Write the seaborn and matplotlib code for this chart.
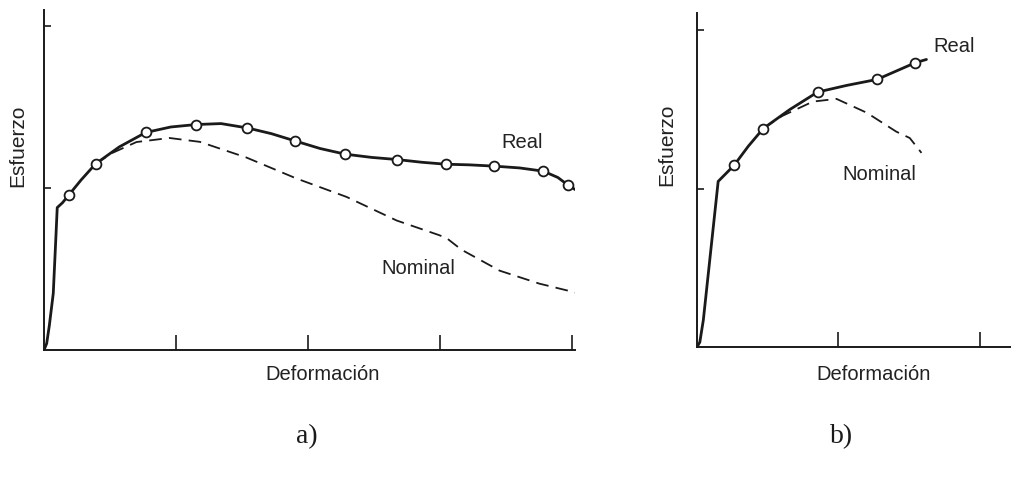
import numpy as np
import pandas as pd
import seaborn as sns
import matplotlib
matplotlib.use("Agg")
import matplotlib.pyplot as plt

# panel a) - curve (ticks = 1 unit)
a_real_x = [0, 0.02, 0.04, 0.07, 0.09, 0.10, 0.14, 0.19, 0.28, 0.39, 0.57, 0.77, 0.96, 1.15,
            1.34, 1.54, 1.72, 1.90, 2.09, 2.28, 2.48, 2.67, 2.86, 3.04, 3.22, 3.41, 3.60,
            3.78, 3.89, 3.97, 4.05]
a_real_y = [0, 0.04, 0.15, 0.35, 0.70, 0.88, 0.91, 0.96, 1.05, 1.15, 1.255, 1.344, 1.378, 1.393,
            1.399, 1.372, 1.337, 1.292, 1.245, 1.21, 1.19, 1.177, 1.16, 1.148, 1.144, 1.136, 1.125,
            1.105, 1.066, 1.017, 0.977]
a_mark_x = [0.19, 0.39, 0.77, 1.15, 1.54, 1.90, 2.28, 2.67, 3.04, 3.41, 3.78, 3.97]
a_mark_y = [0.96, 1.15, 1.344, 1.393, 1.372, 1.292, 1.21, 1.177, 1.148, 1.136, 1.105, 1.017]
a_nom_x = [0.39, 0.51, 0.70, 0.95, 1.18, 1.53, 1.91, 2.29, 2.67, 2.99, 3.05, 3.16, 3.45, 3.75, 4.05]
a_nom_y = [1.148, 1.215, 1.285, 1.31, 1.286, 1.19, 1.06, 0.946, 0.80, 0.71, 0.69, 0.62, 0.49, 0.41, 0.35]

# panel b)
b_real_x = [0, 0.02, 0.045, 0.15, 0.262, 0.363, 0.469, 0.657, 0.853, 1.058, 1.274, 1.543, 1.623]
b_real_y = [0, 0.03, 0.17, 1.046, 1.147, 1.268, 1.38, 1.50, 1.61, 1.652, 1.69, 1.795, 1.816]
b_mark_x = [0.262, 0.469, 0.853, 1.274, 1.543]
b_mark_y = [1.147, 1.38, 1.61, 1.69, 1.795]
b_nom_x = [0.469, 0.60, 0.82, 0.987, 1.20, 1.41, 1.505, 1.588]
b_nom_y = [1.38, 1.458, 1.55, 1.567, 1.48, 1.36, 1.32, 1.226]

sns.set_theme(style="white")
plt.rcParams['font.family'] = ['Liberation Sans', 'DejaVu Sans']

fig = plt.figure(figsize=(10.12, 4.78), dpi=100)
ax_a = fig.add_axes([0.0435, 0.2678, 0.5247, 0.711])
ax_b = fig.add_axes([0.6887, 0.274, 0.311, 0.699])

ink = "#1a1a1a"
txt = "#222222"

def draw_panel(ax, rx, ry, mx, my, nx, ny):
    sns.lineplot(x=rx, y=ry, ax=ax, color=ink, lw=2.0, sort=False, estimator=None)
    sns.lineplot(x=nx, y=ny, ax=ax, color=ink, lw=1.3, sort=False, estimator=None,
                 dashes=False, linestyle=(0, (7, 4)))
    sns.scatterplot(x=mx, y=my, ax=ax, s=50, facecolor="white", edgecolor=ink,
                    linewidth=1.3, zorder=5)
    sns.despine(ax=ax)
    for sp in ["left", "bottom"]:
        ax.spines[sp].set_color(ink)
        ax.spines[sp].set_linewidth(1.4)
    ax.set_xticklabels([])
    ax.set_yticklabels([])
    ax.tick_params(axis="x", direction="in", length=11, width=1.2, color=ink, bottom=True)
    ax.tick_params(axis="y", direction="in", length=5, width=1.2, color=ink, left=True)

draw_panel(ax_a, a_real_x, a_real_y, a_mark_x, a_mark_y, a_nom_x, a_nom_y)
ax_a.set_xlim(0, 4.02)
ax_a.set_ylim(0, 2.1)
ax_a.set_xticks([1, 2, 3, 4])
ax_a.set_yticks([1, 2])
ax_a.text(3.62, 1.28, "Real", fontsize=14.5, color=txt, ha="center", va="center")
ax_a.text(2.83, 0.506, "Nominal", fontsize=14.5, color=txt, ha="center", va="center")
ax_a.set_xlabel("Deformación", fontsize=14.5, color=txt)
ax_a.xaxis.set_label_coords(0.525, -0.045)
ax_a.set_ylabel("Esfuerzo", fontsize=15, color=txt)
ax_a.yaxis.set_label_coords(-0.032, 0.6)

draw_panel(ax_b, b_real_x, b_real_y, b_mark_x, b_mark_y, b_nom_x, b_nom_y)
ax_b.set_xlim(0, 2.226)
ax_b.set_ylim(0, 2.11)
ax_b.set_xticks([1, 2])
ax_b.set_yticks([1, 2])
ax_b.text(1.82, 1.9, "Real", fontsize=14.5, color=txt, ha="center", va="center")
ax_b.text(1.29, 1.09, "Nominal", fontsize=14.5, color=txt, ha="center", va="center")
ax_b.set_xlabel("Deformación", fontsize=14.5, color=txt)
ax_b.xaxis.set_label_coords(0.56, -0.055)
ax_b.set_ylabel("Esfuerzo", fontsize=15, color=txt)
ax_b.yaxis.set_label_coords(-0.067, 0.605)

fig.text(307 / 1012, 1 - 437 / 478, "a)", fontsize=20, family="Liberation Serif",
         ha="center", va="center", color=ink)
fig.text(842 / 1012, 1 - 437 / 478, "b)", fontsize=20, family="Liberation Serif",
         ha="center", va="center", color=ink)

fig.savefig("out.png", dpi=100, facecolor="white")
